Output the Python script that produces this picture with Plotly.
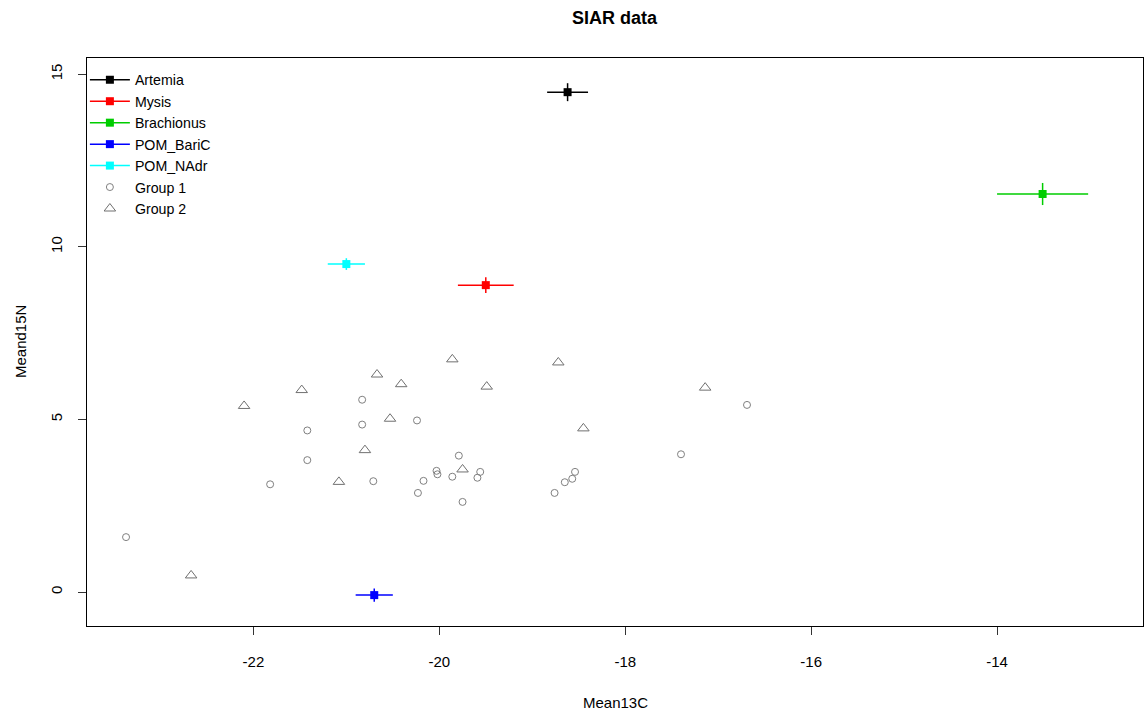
import plotly.graph_objects as go

# Sources (mean ± sd)
src_names = ["Artemia", "Mysis", "Brachionus", "POM_BariC", "POM_NAdr"]
src_c = [-18.62, -19.50, -13.51, -20.70, -21.00]
src_c_sd = [0.22, 0.30, 0.49, 0.20, 0.20]
src_n = [14.48, 8.89, 11.53, -0.09, 9.50]
src_n_sd = [0.26, 0.23, 0.32, 0.19, 0.17]
src_colors = ["#000000", "#FF0000", "#00CD00", "#0000FF", "#00FFFF"]

# Consumers
g1_c = [-23.37, -21.82, -21.42, -21.42, -20.83, -20.83, -20.71, -20.24, -20.23, -20.17,
        -20.03, -20.02, -19.86, -19.79, -19.75, -19.59, -19.56, -18.76, -18.65, -18.57,
        -18.54, -17.40, -16.69]
g1_n = [1.59, 3.12, 4.68, 3.82, 5.57, 4.85, 3.21, 4.97, 2.87, 3.22,
        3.51, 3.41, 3.34, 3.95, 2.61, 3.31, 3.48, 2.87, 3.18, 3.28,
        3.48, 3.99, 5.42]
g2_c = [-22.67, -22.10, -21.48, -21.08, -20.80, -20.67, -20.53, -20.41, -19.86, -19.75,
        -19.49, -18.72, -18.45, -17.14]
g2_n = [0.48, 5.39, 5.85, 3.19, 4.11, 6.30, 5.02, 6.02, 6.74, 3.55,
        5.95, 6.65, 4.74, 5.92]

x_ticks = [-22, -20, -18, -16, -14]
y_ticks = [0, 5, 10, 15]

FONT = "Liberation Sans, Arial, sans-serif"

fig = go.Figure()
for name, cx, csd, ny, nsd, col in zip(src_names, src_c, src_c_sd, src_n, src_n_sd, src_colors):
    fig.add_trace(go.Scatter(
        x=[cx], y=[ny], name=name, mode="lines+markers",
        marker=dict(symbol="square", size=8, color=col),
        line=dict(color=col, width=1.5),
        error_x=dict(type="data", array=[csd], width=0, thickness=1.5, color=col),
        error_y=dict(type="data", array=[nsd], width=0, thickness=1.5, color=col),
    ))

fig.add_trace(go.Scatter(
    x=g1_c, y=g1_n, name="Group 1", mode="markers",
    marker=dict(symbol="circle-open", size=7, color="#808080", line=dict(width=1, color="#808080")),
))
fig.add_trace(go.Scatter(
    x=g2_c, y=g2_n, name="Group 2", mode="markers",
    marker=dict(symbol="triangle-up-open", size=10, color="#707070", line=dict(width=1, color="#707070")),
))

fig.update_layout(
    width=1145, height=713,
    margin=dict(l=87, r=2, t=58, b=87),
    paper_bgcolor="white", plot_bgcolor="white",
    font=dict(family=FONT, size=15, color="#000000"),
    showlegend=True,
    legend=dict(x=-0.002, y=0.9894, xanchor="left", yanchor="top", bgcolor="rgba(0,0,0,0)",
                font=dict(size=14.2, family=FONT), tracegroupgap=0, itemwidth=40),
    xaxis=dict(range=[-23.79, -12.43], tickvals=x_ticks, ticktext=[str(v) for v in x_ticks],
               showgrid=False, zeroline=False, showline=True, mirror=True,
               linecolor="#000000", linewidth=1, ticks="outside", ticklen=8,
               tickcolor="#333333", ticklabelstandoff=14),
    yaxis=dict(range=[-0.985, 15.47], tickvals=y_ticks, ticktext=[str(v) for v in y_ticks],
               showgrid=False, zeroline=False, showline=True, mirror=True,
               linecolor="#000000", linewidth=1, ticks="outside", ticklen=8,
               tickcolor="#333333", tickangle=-90, ticklabelstandoff=10),
    annotations=[
        dict(text="<b>SIAR data</b>", x=0.5, y=1, xref="paper", yref="paper",
             xanchor="center", yanchor="middle", yshift=40, showarrow=False,
             font=dict(size=18, family=FONT)),
        dict(text="Mean13C", x=0.5, y=0, xref="paper", yref="paper",
             xanchor="center", yanchor="middle", yshift=-76, showarrow=False,
             font=dict(size=15, family=FONT)),
        dict(text="Meand15N", x=0, y=0.5, xref="paper", yref="paper",
             xanchor="center", yanchor="middle", xshift=-67, textangle=-90, showarrow=False,
             font=dict(size=15, family=FONT)),
    ],
)

fig.write_html("out.html")
